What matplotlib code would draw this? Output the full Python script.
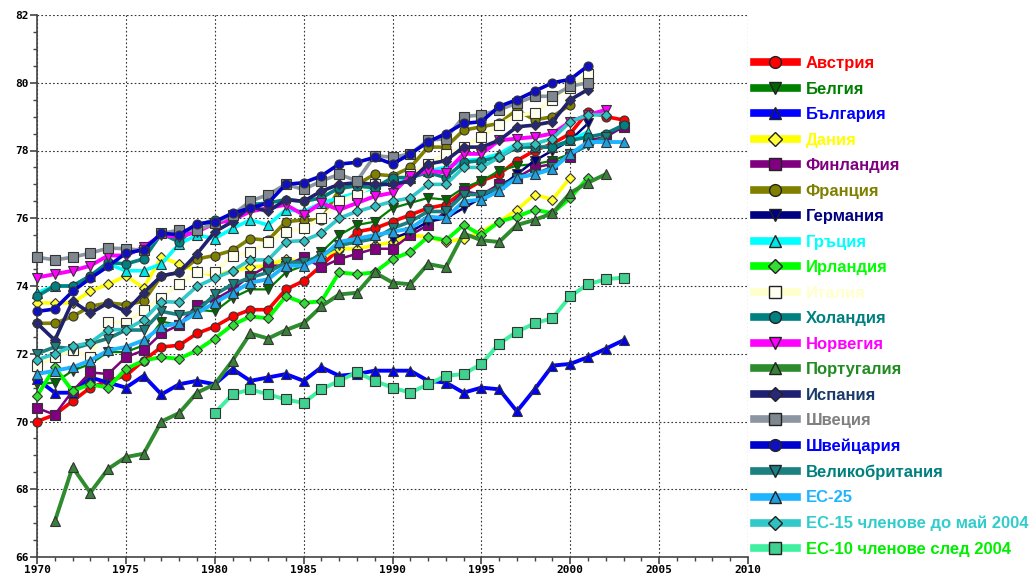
import matplotlib
matplotlib.use("Agg")
import matplotlib.pyplot as plt
from matplotlib.lines import Line2D
from matplotlib.ticker import MultipleLocator

# life expectancy at birth
austria = [70.0, 70.2, 70.6, 71.0, 71.2, 71.35, 71.8, 72.2, 72.25, 72.6, 72.8, 73.1, 73.3, 73.3, 73.9, 74.15, 74.6,
           75.1, 75.6, 75.7, 75.9, 76.1, 76.3, 76.4, 76.8, 77.1, 77.3, 77.7, 78.0, 78.2, 78.5, 79.15, 79.0, 78.9]
belgium = [71.1, 71.15, 71.5, 71.7, 72.05, 72.05, 72.25, 72.95, 72.85, 73.3, 73.25, 73.65, 73.9, 73.9, 74.4, 74.6,
           75.0, 75.5, 75.8, 75.9, 76.3, 76.45, 76.6, 76.55, 76.9, 77.1, 77.4, 77.55, 77.6, 77.7, 77.9, 78.2]
bulgaria = [71.25, 70.85, 70.85, 71.3, 71.15, 71.0, 71.35, 70.8, 71.1, 71.2, 71.1, 71.55, 71.2, 71.3, 71.4, 71.2,
            71.6, 71.35, 71.4, 71.5, 71.5, 71.5, 71.2, 71.15, 70.85, 71.0, 70.95, 70.3, 70.95, 71.65, 71.7, 71.9,
            72.15, 72.4]
denmark = [73.5, 73.5, 73.5, 73.85, 74.05, 74.3, 73.95, 74.85, 74.65, 74.45, 74.3, 74.45, 74.55, 74.6, 74.8, 74.7,
           74.85, 75.1, 75.1, 75.2, 75.3, 75.5, 75.45, 75.3, 75.4, 75.6, 75.9, 76.25, 76.7, 76.55, 77.2]
finland = [70.4, 70.2, 70.9, 71.45, 71.4, 71.9, 72.1, 72.6, 72.85, 73.45, 73.6, 73.9, 74.3, 74.6, 74.6, 74.85, 74.55,
           74.8, 74.95, 75.1, 75.1, 75.5, 75.8, 76.2, 76.8, 76.7, 77.0, 77.2, 77.5, 77.6, 77.8, 78.3, 78.4, 78.7]
france = [72.9, 72.9, 73.1, 73.4, 73.5, 73.45, 73.55, 74.3, 74.4, 74.8, 74.9, 75.05, 75.4, 75.35, 75.9, 75.95, 75.95,
          76.85, 77.0, 77.3, 77.25, 77.5, 78.1, 78.1, 78.6, 78.7, 78.8, 79.2, 78.9, 79.0, 79.35]
germany = [75.4, 75.6, 75.9, 76.0, 76.3, 76.6, 76.9, 77.3, 77.7, 78.0, 78.3, 78.8]
greece = [73.8, 74.0, 74.0, 74.3, 74.65, 74.45, 74.45, 74.65, 75.25, 75.5, 75.4, 75.7, 75.95, 75.8, 76.25, 76.2,
          76.45, 76.6, 76.75, 76.9, 77.1, 77.2, 77.4, 77.5, 77.7, 77.75, 77.9, 78.2, 78.1, 78.1, 78.3, 78.55]
ireland = [70.75, 71.6, 70.9, 71.1, 71.0, 71.55, 71.8, 71.9, 71.85, 72.1, 72.45, 72.85, 73.1, 73.05, 73.7, 73.5,
           73.55, 74.4, 74.35, 74.4, 74.8, 75.0, 75.45, 75.35, 75.8, 75.5, 75.9, 76.05, 76.25, 76.15, 76.6, 77.2]
italy = [71.65, 71.9, 72.1, 71.9, 72.95, 72.9, 73.3, 73.65, 74.05, 74.4, 74.4, 74.9, 75.0, 75.3, 75.6, 75.7, 76.0,
         76.5, 76.7, 77.0, 77.1, 77.3, 77.6, 77.9, 78.1, 78.4, 78.75, 79.05, 79.1, 79.5, 79.85, 80.25]
netherlands = [73.7, 74.0, 74.0, 74.3, 74.7, 74.65, 74.8, 75.55, 75.3, 75.8, 75.95, 76.0, 76.4, 76.45, 76.55, 76.5,
               76.6, 76.9, 76.95, 76.9, 77.2, 77.2, 77.35, 77.2, 77.65, 77.7, 77.8, 78.1, 78.1, 78.1, 78.3, 78.4,
               78.5, 78.75]
norway = [74.25, 74.35, 74.45, 74.6, 74.9, 74.9, 75.15, 75.5, 75.45, 75.6, 75.85, 75.95, 76.2, 76.3, 76.4, 76.1,
          76.45, 76.25, 76.45, 76.65, 76.75, 77.25, 77.4, 77.35, 77.9, 77.9, 78.3, 78.35, 78.4, 78.5, 78.85, 79.05,
          79.2]
portugal = [67.05, 68.65, 67.9, 68.6, 68.95, 69.05, 70.0, 70.25, 70.85, 71.1, 71.8, 72.6, 72.45, 72.7, 72.9, 73.4,
            73.75, 73.8, 74.4, 74.1, 74.05, 74.65, 74.55, 75.55, 75.35, 75.3, 75.8, 75.95, 76.15, 76.75, 77.05, 77.3]
spain = [72.9, 72.4, 73.55, 73.2, 73.5, 73.25, 73.8, 74.3, 74.4, 74.95, 75.6, 75.9, 76.35, 76.2, 76.55, 76.5, 76.8,
         77.0, 77.05, 77.0, 77.0, 77.1, 77.6, 77.7, 78.1, 78.1, 78.3, 78.7, 78.75, 78.85, 79.5, 79.8]
sweden = [74.85, 74.77, 74.85, 74.97, 75.12, 75.1, 75.05, 75.55, 75.65, 75.65, 75.85, 76.1, 76.5, 76.7, 77.0, 76.85,
          77.1, 77.3, 77.1, 77.85, 77.8, 77.9, 78.3, 78.35, 79.0, 79.05, 79.2, 79.4, 79.6, 79.6, 79.9, 80.0]
switzerland = [73.25, 73.32, 73.84, 74.23, 74.58, 74.97, 75.07, 75.56, 75.51, 75.83, 75.9, 76.15, 76.3, 76.45, 77.0,
               77.05, 77.25, 77.6, 77.65, 77.8, 77.6, 77.9, 78.25, 78.5, 78.8, 78.85, 79.3, 79.5, 79.75, 80.0, 80.1,
               80.5]
uk = [72.0, 72.2, 72.15, 72.3, 72.45, 72.7, 72.7, 73.25, 73.15, 73.25, 73.75, 74.05, 74.25, 74.4, 74.7, 74.7, 74.9,
      75.2, 75.3, 75.4, 75.7, 75.9, 76.2, 76.2, 76.7, 76.7, 76.9, 77.2, 77.3, 77.5, 77.9, 78.15, 78.4]
eu25 = [71.4, 71.5, 71.6, 71.8, 72.1, 72.2, 72.4, 72.8, 72.9, 73.2, 73.5, 73.8, 74.1, 74.2, 74.6, 74.6, 74.85, 75.3,
        75.4, 75.5, 75.6, 75.7, 76.05, 76.0, 76.5, 76.55, 76.8, 77.2, 77.3, 77.45, 77.9, 78.25, 78.25, 78.25]
eu15 = [71.82, 72.0, 72.22, 72.33, 72.71, 72.71, 73.0, 73.54, 73.52, 73.99, 74.23, 74.45, 74.77, 74.77, 75.31, 75.34,
        75.56, 76.0, 76.2, 76.35, 76.5, 76.6, 77.0, 77.0, 77.5, 77.5, 77.8, 78.15, 78.2, 78.35, 78.85, 79.05, 79.05]
ec10 = [70.25, 70.8, 70.95, 70.8, 70.65, 70.55, 70.95, 71.2, 71.45, 71.2, 71.0, 70.85, 71.1, 71.35, 71.4, 71.7,
        72.3, 72.65, 72.9, 73.05, 73.7, 74.05, 74.2, 74.25]

# (label, first year, values, line colour, marker, marker face, label colour, line width)
series = [
    ("Австрия", 1970, austria, "#ff0000", "o", "#ff0000", "#ff0000", 2.6),
    ("Белгия", 1970, belgium, "#008000", "v", "#006400", "#008000", 1.6),
    ("България", 1970, bulgaria, "#0000ff", "^", "#0000ee", "#0000ff", 2.8),
    ("Дания", 1970, denmark, "#ffff00", "D", "#ffff33", "#ffff00", 2.6),
    ("Финландия", 1970, finland, "#800080", "s", "#800080", "#800080", 1.8),
    ("Франция", 1970, france, "#808000", "o", "#808000", "#808000", 2.6),
    ("Германия", 1990, germany, "#000080", "v", "#000080", "#000080", 1.8),
    ("Гръция", 1970, greece, "#00ffff", "^", "#00e5e5", "#00ffff", 2.6),
    ("Ирландия", 1970, ireland, "#00ff00", "D", "#33dd33", "#00ff00", 2.8),
    ("Италия", 1970, italy, "#ffffcc", "s", "#fffff0", "#ffffcc", 2.6),
    ("Холандия", 1970, netherlands, "#008080", "o", "#008080", "#008080", 2.6),
    ("Норвегия", 1970, norway, "#ff00ff", "v", "#ff00ff", "#ff00ff", 2.8),
    ("Португалия", 1971, portugal, "#2e8b2e", "^", "#3a7f3a", "#228b22", 2.8),
    ("Испания", 1970, spain, "#202070", "D", "#282878", "#1a3a6a", 2.6),
    ("Швеция", 1970, sweden, "#8c96a0", "s", "#7f8890", "#808080", 2.6),
    ("Швейцария", 1970, switzerland, "#0000cd", "o", "#1010c0", "#0000ff", 2.6),
    ("Великобритания", 1970, uk, "#1a8080", "v", "#1a8080", "#007f7f", 2.6),
    ("ЕС-25", 1970, eu25, "#1eb4ff", "^", "#1ea0e0", "#1eb4ff", 2.8),
    ("ЕС-15 членове до май 2004", 1970, eu15, "#30c8c8", "D", "#30c0c0", "#33cccc", 2.6),
    ("ЕС-10 членове след 2004", 1980, ec10, "#40f0a0", "s", "#40d090", "#00ee00", 2.8),
]

fig = plt.figure(figsize=(10.32, 5.77), dpi=100)
ax = fig.add_axes([37 / 1032, 1 - 557 / 577, 711 / 1032, 542 / 577])

for label, start, values, color, marker, face, text_color, lw in series:
    years = list(range(start, start + len(values)))
    ms = 5.5 if marker == "D" else 6.5
    ax.plot(years, values, color=color, lw=lw, marker=marker, ms=ms, mfc=face,
            mec="#333333", mew=0.8, clip_on=False, zorder=3)

ax.set_xlim(1970, 2010)
ax.set_ylim(66, 82)
ax.xaxis.set_major_locator(MultipleLocator(5))
ax.xaxis.set_minor_locator(MultipleLocator(1))
ax.yaxis.set_major_locator(MultipleLocator(2))
ax.yaxis.set_minor_locator(MultipleLocator(0.5))
ax.grid(True, which="major", color="#333333", linestyle=(0, (1.5, 2)), linewidth=0.8)
ax.set_axisbelow(True)
for side in ["top", "right"]:
    ax.spines[side].set_visible(False)
for side in ["left", "bottom"]:
    ax.spines[side].set_color("#444444")
    ax.spines[side].set_linewidth(1.2)
ax.tick_params(which="major", direction="out", length=5, width=1.2, color="#444444", pad=1)
ax.tick_params(which="minor", direction="out", length=3, width=1.0, color="#444444")
for lbl in ax.get_xticklabels() + ax.get_yticklabels():
    lbl.set_fontfamily("DejaVu Sans Mono")
    lbl.set_fontweight("bold")
    lbl.set_fontsize(8)

handles = []
for label, start, values, color, marker, face, text_color, lw in series:
    handles.append(Line2D([], [], color=color, lw=5.5, marker=marker, ms=8.5 if marker != "D" else 7.5,
                          mfc=face, mec="#222222", mew=1.0))
leg = fig.legend(handles, [s[0] for s in series], loc="upper left", bbox_to_anchor=(739 / 1032, 1 - 41 / 577),
                 frameon=False, handlelength=2.55, handletextpad=0.55, labelspacing=0.63,
                 prop={"family": "Liberation Sans", "weight": "bold", "size": 12})
for text, s in zip(leg.get_texts(), series):
    text.set_color(s[6])

fig.savefig("out.png", dpi=100)
